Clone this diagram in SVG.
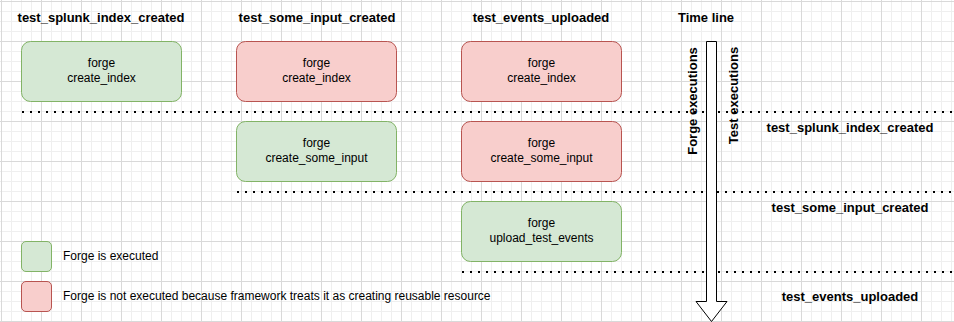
<svg xmlns="http://www.w3.org/2000/svg" width="954" height="322" viewBox="0 0 954 322">
  <style>
    .hdr { font-family: "Liberation Sans", Arial, Helvetica, sans-serif; font-size: 13px; font-weight: bold; fill: #000; }
    .lbl { font-family: "Liberation Sans", Arial, Helvetica, sans-serif; font-size: 12px; fill: #000; }
    .ok { fill: #d5e8d4; stroke: #82b366; stroke-width: 1; }
    .skip { fill: #f8cecc; stroke: #b85450; stroke-width: 1; }
    .sep { stroke: #000; stroke-width: 2; stroke-dasharray: 2 6; fill: none; }
  </style>
  <defs>
    <pattern id="grid" x="1" y="1" width="40" height="40" patternUnits="userSpaceOnUse">
      <rect width="40" height="40" fill="#ffffff"/>
      <g fill="#efefef">
        <rect x="10" y="0" width="1" height="40"/>
        <rect x="20" y="0" width="1" height="40"/>
        <rect x="30" y="0" width="1" height="40"/>
        <rect x="0" y="10" width="40" height="1"/>
        <rect x="0" y="20" width="40" height="1"/>
        <rect x="0" y="30" width="40" height="1"/>
      </g>
      <g fill="#d9d9d9">
        <rect x="0" y="0" width="1" height="40"/>
        <rect x="0" y="0" width="40" height="1"/>
      </g>
    </pattern>
  </defs>

  <rect width="954" height="322" fill="url(#grid)"/>

  <!-- column headers -->
  <g id="headers">
    <text class="hdr" x="101" y="22" text-anchor="middle">test_splunk_index_created</text>
    <text class="hdr" x="317" y="22" text-anchor="middle">test_some_input_created</text>
    <text class="hdr" x="541" y="22" text-anchor="middle">test_events_uploaded</text>
    <text class="hdr" x="706" y="22" text-anchor="middle">Time line</text>
  </g>

  <!-- forge boxes -->
  <g id="n1">
    <rect class="ok" x="21.5" y="41.5" width="160" height="60" rx="9"/>
    <text class="lbl" x="101.5" y="67" text-anchor="middle">forge</text>
    <text class="lbl" x="101.5" y="82" text-anchor="middle">create_index</text>
  </g>
  <g id="n2">
    <rect class="skip" x="236.5" y="41.5" width="160" height="60" rx="9"/>
    <text class="lbl" x="316.5" y="67" text-anchor="middle">forge</text>
    <text class="lbl" x="316.5" y="82" text-anchor="middle">create_index</text>
  </g>
  <g id="n3">
    <rect class="skip" x="461.5" y="41.5" width="160" height="60" rx="9"/>
    <text class="lbl" x="541.5" y="67" text-anchor="middle">forge</text>
    <text class="lbl" x="541.5" y="82" text-anchor="middle">create_index</text>
  </g>
  <g id="n4">
    <rect class="ok" x="236.5" y="121.5" width="160" height="60" rx="9"/>
    <text class="lbl" x="316.5" y="147" text-anchor="middle">forge</text>
    <text class="lbl" x="316.5" y="162" text-anchor="middle">create_some_input</text>
  </g>
  <g id="n5">
    <rect class="skip" x="461.5" y="121.5" width="160" height="60" rx="9"/>
    <text class="lbl" x="541.5" y="147" text-anchor="middle">forge</text>
    <text class="lbl" x="541.5" y="162" text-anchor="middle">create_some_input</text>
  </g>
  <g id="n6">
    <rect class="ok" x="461.5" y="201.5" width="160" height="60" rx="9"/>
    <text class="lbl" x="541.5" y="227" text-anchor="middle">forge</text>
    <text class="lbl" x="541.5" y="242" text-anchor="middle">upload_test_events</text>
  </g>

  <!-- dotted stage separators -->
  <g id="separators">
    <line class="sep" x1="22" y1="112" x2="954" y2="112"/>
    <line class="sep" x1="237" y1="192" x2="954" y2="192"/>
    <line class="sep" x1="462" y1="272" x2="954" y2="272"/>
  </g>

  <!-- time line arrow -->
  <g id="timeline">
    <path d="M706.5 41.5 H716.5 V301.5 H727 L711.5 321.5 L696 301.5 H706.5 Z" fill="#ffffff" stroke="#000" stroke-width="1"/>
    <text class="hdr" transform="translate(697 101) rotate(-90)" text-anchor="middle">Forge executions</text>
    <text class="hdr" transform="translate(737.5 95.5) rotate(-90)" text-anchor="middle">Test executions</text>
  </g>

  <!-- stage labels -->
  <g id="stages">
    <text class="hdr" x="850" y="132" text-anchor="middle">test_splunk_index_created</text>
    <text class="hdr" x="850" y="212" text-anchor="middle">test_some_input_created</text>
    <text class="hdr" x="850" y="301" text-anchor="middle">test_events_uploaded</text>
  </g>

  <!-- legend -->
  <g id="legend-ok">
    <rect class="ok" x="21.5" y="241.5" width="30" height="30" rx="4.5"/>
    <text class="lbl" x="63" y="260">Forge is executed</text>
  </g>
  <g id="legend-skip">
    <rect class="skip" x="21.5" y="281.5" width="30" height="30" rx="4.5"/>
    <text class="lbl" x="63" y="300">Forge is not executed because framework treats it as creating reusable resource</text>
  </g>
</svg>
